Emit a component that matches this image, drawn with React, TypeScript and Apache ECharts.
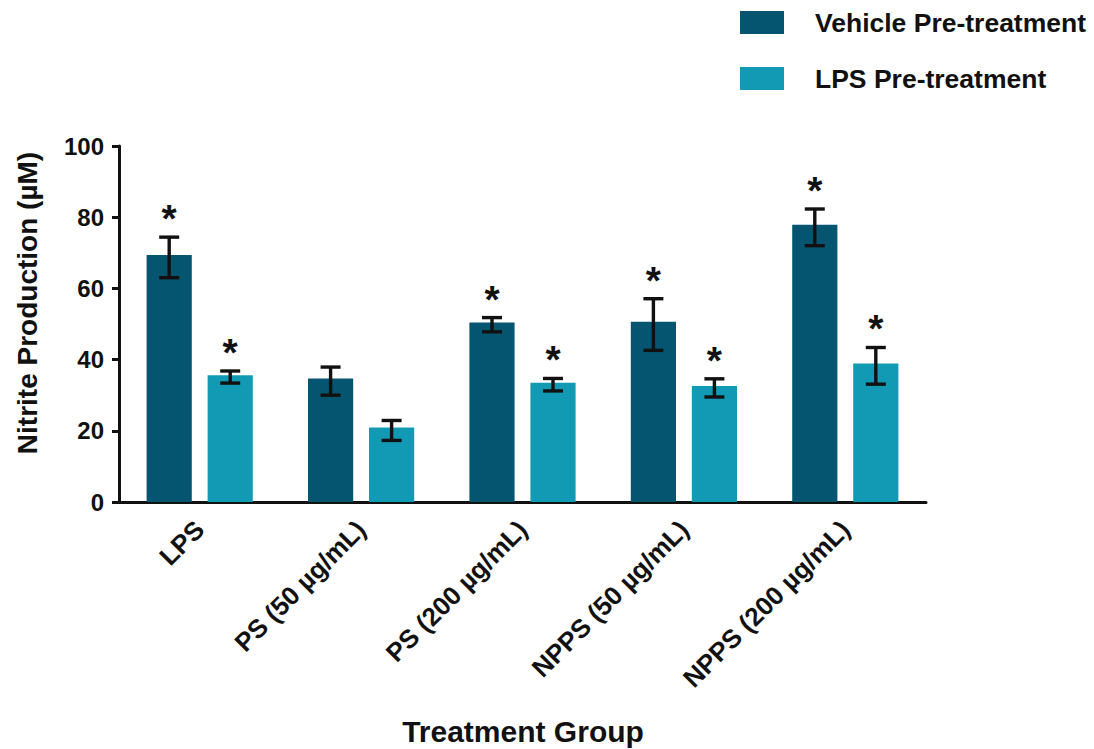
import React, { useEffect, useRef } from "react";
import * as echarts from "echarts";

// Treatment groups on the x axis
const categories = [
  "LPS",
  "PS (50 µg/mL)",
  "PS (200 µg/mL)",
  "NPPS (50 µg/mL)",
  "NPPS (200 µg/mL)",
];

// Mean nitrite production (µM)
const vehicleMean = [69.4, 34.7, 50.4, 50.6, 77.9];
const lpsMean = [35.6, 20.9, 33.5, 32.6, 38.9];

// Error bar bounds (µM)
const vehicleLow = [63.0, 30.0, 47.8, 42.6, 72.0];
const vehicleHigh = [74.4, 37.9, 51.8, 57.1, 82.3];
const lpsLow = [33.4, 17.3, 31.2, 29.5, 33.1];
const lpsHigh = [36.8, 22.9, 34.7, 34.6, 43.4];

// Significance markers (true = "*")
const vehicleSig = [true, false, true, true, true];
const lpsSig = [true, false, true, true, true];

const yTicks = [0, 20, 40, 60, 80, 100];

const seriesNames = ["Vehicle Pre-treatment", "LPS Pre-treatment"];
const colors = ["#065570", "#129ab4"];

const FONT = "'Liberation Sans', Arial, Helvetica, sans-serif";
const BAR_WIDTH = 0.28; // fraction of category width
const BAR_GAP = 0.35; // fraction of bar width

function errorSeries(
  name: string,
  low: number[],
  high: number[],
  sig: boolean[],
  side: number
) {
  return {
    type: "custom",
    name: name + " error",
    z: 10,
    silent: true,
    data: low.map((l, i) => [i, l, high[i], sig[i] ? 1 : 0]),
    encode: { x: 0, y: [1, 2] },
    renderItem: (params: any, api: any) => {
      const idx = api.value(0);
      const catW = api.size([1, 0])[0];
      const offset = (side * (BAR_WIDTH + BAR_WIDTH * BAR_GAP) * catW) / 2;
      const lo = api.coord([idx, api.value(1)]);
      const hi = api.coord([idx, api.value(2)]);
      const x = lo[0] + offset;
      const capHalf = 10;
      const style = { stroke: "#111", lineWidth: 3.4 };
      const children: any[] = [
        { type: "line", shape: { x1: x, y1: hi[1], x2: x, y2: lo[1] }, style },
        {
          type: "line",
          shape: { x1: x - capHalf, y1: hi[1], x2: x + capHalf, y2: hi[1] },
          style,
        },
        {
          type: "line",
          shape: { x1: x - capHalf, y1: lo[1], x2: x + capHalf, y2: lo[1] },
          style,
        },
      ];
      if (api.value(3)) {
        children.push({
          type: "text",
          x: x,
          y: hi[1] + 1,
          style: {
            text: "*",
            fill: "#111",
            font: `bold 39px ${FONT}`,
            align: "center",
            verticalAlign: "bottom",
          },
        });
      }
      return { type: "group", children };
    },
  };
}

export default function App() {
  const ref = useRef<HTMLDivElement>(null);

  useEffect(() => {
    if (!ref.current) return;
    const chart = echarts.init(ref.current, null, { renderer: "svg" });

    chart.setOption({
      animation: false,
      backgroundColor: "#ffffff",
      textStyle: { fontFamily: FONT },
      grid: { left: 119, right: 168, top: 146, bottom: 247, containLabel: false },
      legend: {
        data: seriesNames,
        orient: "vertical",
        left: 740,
        top: 9,
        padding: 0,
        itemWidth: 44,
        itemHeight: 23,
        itemGap: 29,
        icon: "rect",
        selectedMode: false,
        textStyle: {
          fontFamily: FONT,
          fontSize: 26.5,
          fontWeight: "bold",
          color: "#111",
          padding: [0, 0, 0, 26],
        },
      },
      xAxis: {
        type: "category",
        data: categories,
        boundaryGap: true,
        axisLine: { lineStyle: { color: "#111", width: 3 } },
        axisTick: { alignWithLabel: true, length: 7, lineStyle: { color: "#111", width: 3 } },
        axisLabel: {
          rotate: 45,
          margin: 23,
          fontFamily: FONT,
          fontSize: 26,
          fontWeight: "bold",
          color: "#111",
          interval: 0,
        },
      },
      yAxis: {
        type: "value",
        min: 0,
        max: 100,
        interval: 20,
        splitLine: { show: false },
        axisLine: { show: true, lineStyle: { color: "#111", width: 3 } },
        axisTick: { show: true, length: 7, lineStyle: { color: "#111", width: 3 } },
        axisLabel: {
          margin: 15,
          fontFamily: FONT,
          fontSize: 24,
          fontWeight: "bold",
          color: "#111",
          formatter: (v: number) => (yTicks.includes(v) ? String(v) : ""),
        },
      },
      graphic: [
        {
          type: "text",
          x: 27,
          y: 303,
          rotation: Math.PI / 2,
          style: {
            text: "Nitrite Production (µM)",
            font: `bold 28px ${FONT}`,
            fill: "#111",
            align: "center",
            verticalAlign: "middle",
          },
        },
        {
          type: "text",
          x: 523,
          y: 731,
          style: {
            text: "Treatment Group",
            font: `bold 30px ${FONT}`,
            fill: "#111",
            align: "center",
            verticalAlign: "middle",
          },
        },
      ],
      series: [
        {
          type: "bar",
          name: seriesNames[0],
          data: vehicleMean,
          barWidth: `${BAR_WIDTH * 100}%`,
          barGap: `${BAR_GAP * 100}%`,
          itemStyle: { color: colors[0] },
        },
        {
          type: "bar",
          name: seriesNames[1],
          data: lpsMean,
          barWidth: `${BAR_WIDTH * 100}%`,
          barGap: `${BAR_GAP * 100}%`,
          itemStyle: { color: colors[1] },
        },
        errorSeries(seriesNames[0], vehicleLow, vehicleHigh, vehicleSig, -1),
        errorSeries(seriesNames[1], lpsLow, lpsHigh, lpsSig, 1),
      ],
    });

    return () => chart.dispose();
  }, []);

  return (
    <div
      ref={ref}
      style={{ position: "fixed", left: 0, top: 0, width: 1094, height: 749, background: "#fff" }}
    />
  );
}
